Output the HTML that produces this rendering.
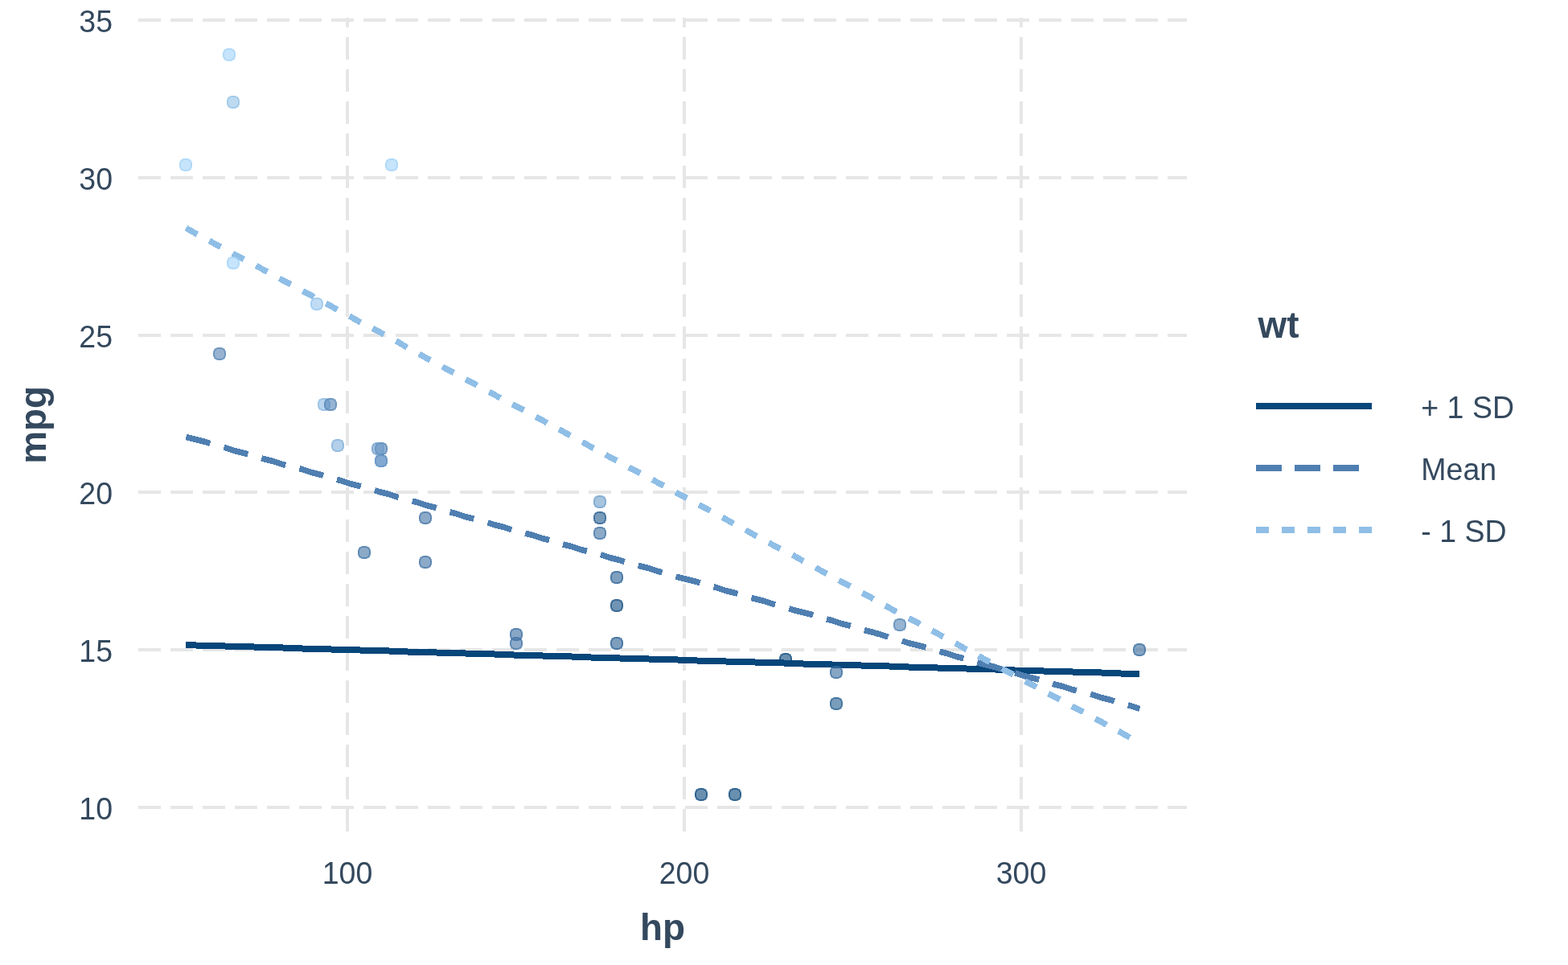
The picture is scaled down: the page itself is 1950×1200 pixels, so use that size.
<!DOCTYPE html>
<html lang="en">
<head>
<meta charset="utf-8">
<title>mpg ~ hp * wt interaction plot</title>
<style>
html,body{margin:0;padding:0;background:#fff;}
body{width:1950px;height:1200px;overflow:hidden;}
svg{display:block;}
text{font-family:"Liberation Sans",Arial,Helvetica,sans-serif;fill:#34495E;}
.t{font-size:37.5px;}
.b{font-size:45.83px;font-weight:bold;}
</style>
</head>
<body>
<svg width="1950" height="1200" viewBox="0 0 1950 1200">
<rect width="1950" height="1200" fill="#FFFFFF"/>
<g id="grid" stroke="#E6E6E6" stroke-width="4" fill="none" shape-rendering="crispEdges" stroke-dasharray="28 12">
<line x1="172" y1="1004" x2="1476" y2="1004"/>
<line x1="172" y1="808" x2="1476" y2="808"/>
<line x1="172" y1="612" x2="1476" y2="612"/>
<line x1="172" y1="417" x2="1476" y2="417"/>
<line x1="172" y1="221" x2="1476" y2="221"/>
<line x1="172" y1="25" x2="1476" y2="25"/>
<line x1="432" y1="1034" x2="432" y2="22"/>
<line x1="851" y1="1034" x2="851" y2="22"/>
<line x1="1270" y1="1034" x2="1270" y2="22"/>
</g>
<g id="lines" stroke-width="8" fill="none" stroke-linejoin="round" shape-rendering="crispEdges">
<polyline points="231.49,802.49 243.49,802.49 255.49,803.49 267.49,803.49 279.49,803.49 291.49,804.49 303.49,804.49 315.49,804.49 327.49,805.49 339.49,805.49 351.49,805.49 363.49,806.49 375.49,806.49 387.49,807.49 399.49,807.49 411.49,807.49 423.49,808.49 435.49,808.49 447.49,808.49 459.49,809.49 471.49,809.49 483.49,809.49 495.49,810.49 506.49,810.49 518.49,811.49 530.49,811.49 542.49,811.49 554.49,812.49 566.49,812.49 578.49,812.49 590.49,813.49 602.49,813.49 614.49,813.49 626.49,814.49 638.49,814.49 650.49,815.49 662.49,815.49 674.49,815.49 686.49,816.49 698.49,816.49 710.49,816.49 722.49,817.49 734.49,817.49 746.49,818.49 758.49,818.49 770.49,818.49 782.49,819.49 794.49,819.49 806.49,819.49 818.49,820.49 830.49,820.49 842.49,820.49 854.49,821.49 866.49,821.49 878.49,822.49 890.49,822.49 902.49,822.49 914.49,823.49 926.49,823.49 938.49,823.49 950.49,824.49 962.49,824.49 974.49,824.49 986.49,825.49 998.49,825.49 1010.49,826.49 1022.49,826.49 1034.49,826.49 1046.49,827.49 1058.49,827.49 1070.49,827.49 1082.49,828.49 1093.49,828.49 1105.49,828.49 1117.49,829.49 1129.49,829.49 1141.49,830.49 1153.49,830.49 1165.49,830.49 1177.49,831.49 1189.49,831.49 1201.49,831.49 1213.49,832.49 1225.49,832.49 1237.49,832.49 1249.49,833.49 1261.49,833.49 1273.49,834.49 1285.49,834.49 1297.49,834.49 1309.49,835.49 1321.49,835.49 1333.49,835.49 1345.49,836.49 1357.49,836.49 1369.49,836.49 1381.49,837.49 1393.49,837.49 1405.49,838.49 1417.49,838.49" stroke="#07467A" stroke-width="8"/>
<polyline points="231.49,543.49 243.49,546.49 255.49,549.49 267.49,553.49 279.49,556.49 291.49,560.49 303.49,563.49 315.49,566.49 327.49,570.49 339.49,573.49 351.49,577.49 363.49,580.49 375.49,583.49 387.49,587.49 399.49,590.49 411.49,594.49 423.49,597.49 435.49,601.49 447.49,604.49 459.49,607.49 471.49,611.49 483.49,614.49 495.49,618.49 506.49,621.49 518.49,624.49 530.49,628.49 542.49,631.49 554.49,635.49 566.49,638.49 578.49,642.49 590.49,645.49 602.49,648.49 614.49,652.49 626.49,655.49 638.49,659.49 650.49,662.49 662.49,665.49 674.49,669.49 686.49,672.49 698.49,676.49 710.49,679.49 722.49,683.49 734.49,686.49 746.49,689.49 758.49,693.49 770.49,696.49 782.49,700.49 794.49,703.49 806.49,706.49 818.49,710.49 830.49,713.49 842.49,717.49 854.49,720.49 866.49,723.49 878.49,727.49 890.49,730.49 902.49,734.49 914.49,737.49 926.49,741.49 938.49,744.49 950.49,747.49 962.49,751.49 974.49,754.49 986.49,758.49 998.49,761.49 1010.49,764.49 1022.49,768.49 1034.49,771.49 1046.49,775.49 1058.49,778.49 1070.49,782.49 1082.49,785.49 1093.49,788.49 1105.49,792.49 1117.49,795.49 1129.49,799.49 1141.49,802.49 1153.49,805.49 1165.49,809.49 1177.49,812.49 1189.49,816.49 1201.49,819.49 1213.49,823.49 1225.49,826.49 1237.49,829.49 1249.49,833.49 1261.49,836.49 1273.49,840.49 1285.49,843.49 1297.49,846.49 1309.49,850.49 1321.49,853.49 1333.49,857.49 1345.49,860.49 1357.49,863.49 1369.49,867.49 1381.49,870.49 1393.49,874.49 1405.49,877.49 1417.49,881.49" stroke="#4F7FB1" stroke-width="7.4" stroke-dasharray="31 17.75"/>
<polyline points="231.49,283.49 243.49,290.49 255.49,296.49 267.49,303.49 279.49,309.49 291.49,316.49 303.49,322.49 315.49,328.49 327.49,335.49 339.49,341.49 351.49,348.49 363.49,354.49 375.49,361.49 387.49,367.49 399.49,374.49 411.49,380.49 423.49,387.49 435.49,393.49 447.49,400.49 459.49,406.49 471.49,412.49 483.49,419.49 495.49,425.49 506.49,432.49 518.49,438.49 530.49,445.49 542.49,451.49 554.49,458.49 566.49,464.49 578.49,471.49 590.49,477.49 602.49,484.49 614.49,490.49 626.49,497.49 638.49,503.49 650.49,509.49 662.49,516.49 674.49,522.49 686.49,529.49 698.49,535.49 710.49,542.49 722.49,548.49 734.49,555.49 746.49,561.49 758.49,568.49 770.49,574.49 782.49,581.49 794.49,587.49 806.49,593.49 818.49,600.49 830.49,606.49 842.49,613.49 854.49,619.49 866.49,626.49 878.49,632.49 890.49,639.49 902.49,645.49 914.49,652.49 926.49,658.49 938.49,665.49 950.49,671.49 962.49,678.49 974.49,684.49 986.49,690.49 998.49,697.49 1010.49,703.49 1022.49,710.49 1034.49,716.49 1046.49,723.49 1058.49,729.49 1070.49,736.49 1082.49,742.49 1093.49,749.49 1105.49,755.49 1117.49,762.49 1129.49,768.49 1141.49,774.49 1153.49,781.49 1165.49,787.49 1177.49,794.49 1189.49,800.49 1201.49,807.49 1213.49,813.49 1225.49,820.49 1237.49,826.49 1249.49,833.49 1261.49,839.49 1273.49,846.49 1285.49,852.49 1297.49,859.49 1309.49,865.49 1321.49,871.49 1333.49,878.49 1345.49,884.49 1357.49,891.49 1369.49,897.49 1381.49,904.49 1393.49,910.49 1405.49,917.49 1417.49,923.49" stroke="#8FBEE6" stroke-width="7.4" stroke-dasharray="16 16.96"/>
</g>
<defs><g id="pt" fill-opacity="0.6" shape-rendering="crispEdges"><path d="M-2 -8h4v1h-4zM-4 -7h8v1h-8zM-6 -6h12v1h-12zM-6 -5h12v1h-12zM-7 -4h14v1h-14zM-7 -3h14v1h-14zM-8 -2h16v1h-16zM-8 -1h16v1h-16zM-8 0h16v1h-16zM-8 1h16v1h-16zM-7 2h14v1h-14zM-7 3h14v1h-14zM-6 4h12v1h-12zM-6 5h12v1h-12zM-4 6h8v1h-8zM-2 7h4v1h-4z"/><path d="M-4 -8h8v1h-8zM-6 -7h12v1h-12zM-7 -6h4v1h-4zM3 -6h4v1h-4zM-7 -5h2v1h-2zM5 -5h2v1h-2zM-8 -4h3v1h-3zM5 -4h3v1h-3zM-8 -3h2v1h-2zM6 -3h2v1h-2zM-8 -2h2v1h-2zM6 -2h2v1h-2zM-8 -1h2v1h-2zM6 -1h2v1h-2zM-8 0h2v1h-2zM6 0h2v1h-2zM-8 1h2v1h-2zM6 1h2v1h-2zM-8 2h2v1h-2zM6 2h2v1h-2zM-8 3h3v1h-3zM5 3h3v1h-3zM-7 4h2v1h-2zM5 4h2v1h-2zM-7 5h4v1h-4zM3 5h4v1h-4zM-6 6h12v1h-12zM-4 7h8v1h-8z"/></g></defs>
<g id="points">
<use href="#pt" x="474" y="573" fill="#76A5D1"/>
<use href="#pt" x="474" y="573" fill="#6595C4"/>
<use href="#pt" x="403" y="503" fill="#8AB9E2"/>
<use href="#pt" x="474" y="558" fill="#4F7FB1"/>
<use href="#pt" x="746" y="663" fill="#3F72A4"/>
<use href="#pt" x="453" y="687" fill="#3D71A3"/>
<use href="#pt" x="1040" y="836" fill="#356A9D"/>
<use href="#pt" x="273" y="440" fill="#5181B2"/>
<use href="#pt" x="411" y="503" fill="#5383B5"/>
<use href="#pt" x="529" y="644" fill="#3F72A4"/>
<use href="#pt" x="529" y="699" fill="#3F72A4"/>
<use href="#pt" x="767" y="753" fill="#104D81"/>
<use href="#pt" x="767" y="718" fill="#296194"/>
<use href="#pt" x="767" y="800" fill="#265E91"/>
<use href="#pt" x="872" y="988" fill="#07467A"/>
<use href="#pt" x="914" y="988" fill="#07467A"/>
<use href="#pt" x="977" y="820" fill="#07467A"/>
<use href="#pt" x="290" y="127" fill="#91C1E8"/>
<use href="#pt" x="231" y="205" fill="#A0D2F8"/>
<use href="#pt" x="285" y="68" fill="#A0D2F8"/>
<use href="#pt" x="420" y="554" fill="#80AFDA"/>
<use href="#pt" x="642" y="789" fill="#396DA0"/>
<use href="#pt" x="642" y="800" fill="#3F72A5"/>
<use href="#pt" x="1040" y="875" fill="#215B8E"/>
<use href="#pt" x="746" y="644" fill="#215A8E"/>
<use href="#pt" x="290" y="327" fill="#A0D2F8"/>
<use href="#pt" x="394" y="378" fill="#95C5EC"/>
<use href="#pt" x="487" y="205" fill="#A0D2F8"/>
<use href="#pt" x="1119" y="777" fill="#5282B4"/>
<use href="#pt" x="746" y="624" fill="#6C9CC9"/>
<use href="#pt" x="1417" y="808" fill="#356A9D"/>
<use href="#pt" x="470" y="558" fill="#6C9BC9"/>
</g>
<g id="yaxis" class="t" text-anchor="end">
<text transform="translate(140 1018.8) scale(1 1.04)">10</text>
<text transform="translate(140 822.8) scale(1 1.04)">15</text>
<text transform="translate(140 626.8) scale(1 1.04)">20</text>
<text transform="translate(140 431.8) scale(1 1.04)">25</text>
<text transform="translate(140 235.8) scale(1 1.04)">30</text>
<text transform="translate(140 39.8) scale(1 1.04)">35</text>
</g>
<g id="xaxis" class="t" text-anchor="middle">
<text transform="translate(432 1099) scale(1 1.04)">100</text>
<text transform="translate(851 1099) scale(1 1.04)">200</text>
<text transform="translate(1270 1099) scale(1 1.04)">300</text>
</g>
<text class="b" text-anchor="middle" x="824" y="1169">hp</text>
<text class="b" text-anchor="middle" transform="translate(57 528.4) rotate(-90)">mpg</text>
<g id="legend">
<text class="b" x="1564.5" y="420">wt</text>
<g stroke-width="8" fill="none" shape-rendering="crispEdges">
<line x1="1562" y1="505" x2="1706" y2="505" stroke="#07467A"/>
<line x1="1562" y1="582" x2="1706" y2="582" stroke="#4F7FB1" stroke-dasharray="32 16"/>
<line x1="1562" y1="659" x2="1706" y2="659" stroke="#8FBEE6" stroke-dasharray="16 16"/>
</g>
<text class="t" transform="translate(1767.3 520) scale(1 1.04)">+ 1 SD</text>
<text class="t" transform="translate(1767.3 597) scale(1 1.04)">Mean</text>
<text class="t" transform="translate(1767.3 674) scale(1 1.04)">- 1 SD</text>
</g>
</svg>
</body>
</html>
